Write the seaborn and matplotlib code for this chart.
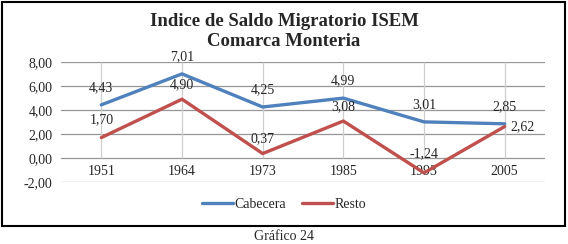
import pandas as pd
import matplotlib
matplotlib.use("Agg")
import matplotlib.pyplot as plt
from matplotlib.patches import Rectangle
from matplotlib.lines import Line2D
import seaborn as sns

years = ["1951", "1964", "1973", "1985", "1993", "2005"]
cabecera = [4.43, 7.01, 4.25, 4.99, 3.01, 2.85]
resto = [1.70, 4.90, 0.37, 3.08, -1.24, 2.62]
y_ticks = [-2, 0, 2, 4, 6, 8]

df = pd.DataFrame({
    "pos": list(range(len(years))) * 2,
    "valor": cabecera + resto,
    "serie": ["Cabecera"] * len(years) + ["Resto"] * len(years),
})

sns.set_style("white")
plt.rcParams["font.family"] = ["Liberation Serif", "DejaVu Serif"]

fig = plt.figure(figsize=(5.68, 2.44), dpi=100)
ax = fig.add_axes([61 / 568, 1 - 182 / 244, (545 - 61) / 568, 120 / 244])

grid_c = "#969696"
for y in y_ticks:
    ax.axhline(y, color=grid_c, lw=0.9, zorder=0)
ax.vlines(range(len(years)), 0, max(y_ticks), color="#CFCFCF", lw=0.9, zorder=0)

sns.lineplot(data=df, x="pos", y="valor", hue="serie",
             palette={"Cabecera": "#4F81BD", "Resto": "#C0504D"},
             linewidth=2.4, ax=ax, legend=False, zorder=3)

ax.set_xlim(-0.5, len(years) - 0.5)
ax.set_ylim(min(y_ticks), max(y_ticks))
ax.set_yticks(y_ticks)
ax.set_yticklabels([f"{v:.2f}".replace(".", ",") for v in y_ticks], fontsize=10)
ax.set_xticks(range(len(years)))
ax.set_xticklabels(years, fontsize=10)
ax.spines["bottom"].set_position(("data", 0))
for s in ax.spines.values():
    s.set_visible(False)
ax.tick_params(axis="both", length=0)
ax.tick_params(axis="x", pad=5)
ax.tick_params(axis="y", pad=6)
ax.set_xlabel("")
ax.set_ylabel("")

fmt = lambda v: f"{v:.2f}".replace(".", ",")
for i, v in enumerate(cabecera):
    ax.annotate(fmt(v), (i, v), xytext=(0, 8), textcoords="offset points",
                ha="center", va="bottom", fontsize=10, zorder=5)
resto_off = [(0, 8, "center"), (0, 6, "center"), (0, 6, "center"),
             (0, 6, "center"), (0, 9, "center"), (4, 0, "left")]
for i, v in enumerate(resto):
    dx, dy, ha = resto_off[i]
    ax.annotate(fmt(v), (i, v), xytext=(dx, dy), textcoords="offset points",
                ha=ha, va="bottom" if dy else "center", fontsize=10, zorder=5)

fig.text(0.5, 1 - 21 / 244, "Indice de Saldo Migratorio ISEM", ha="center", va="center",
         fontsize=13.5, fontweight="bold")
fig.text(0.5, 1 - 42 / 244, "Comarca Monteria", ha="center", va="center",
         fontsize=13.5, fontweight="bold")

handles = [Line2D([], [], color="#4F81BD", lw=2.4), Line2D([], [], color="#C0504D", lw=2.4)]
fig.legend(handles, ["Cabecera", "Resto"], loc="center", bbox_to_anchor=(0.5, 1 - 204 / 244),
           ncol=2, frameon=False, fontsize=10, handlelength=2.2, handletextpad=0.1,
           columnspacing=1.2)

fig.patches.append(Rectangle((2 / 568, 1 - 226 / 244), 563 / 568, 224 / 244,
                             transform=fig.transFigure, fill=False, ec="black", lw=1.5))
fig.text(0.5, 1 - 236 / 244, "Gráfico 24", ha="center", va="center", fontsize=10)

fig.savefig("out.png", dpi=100)
